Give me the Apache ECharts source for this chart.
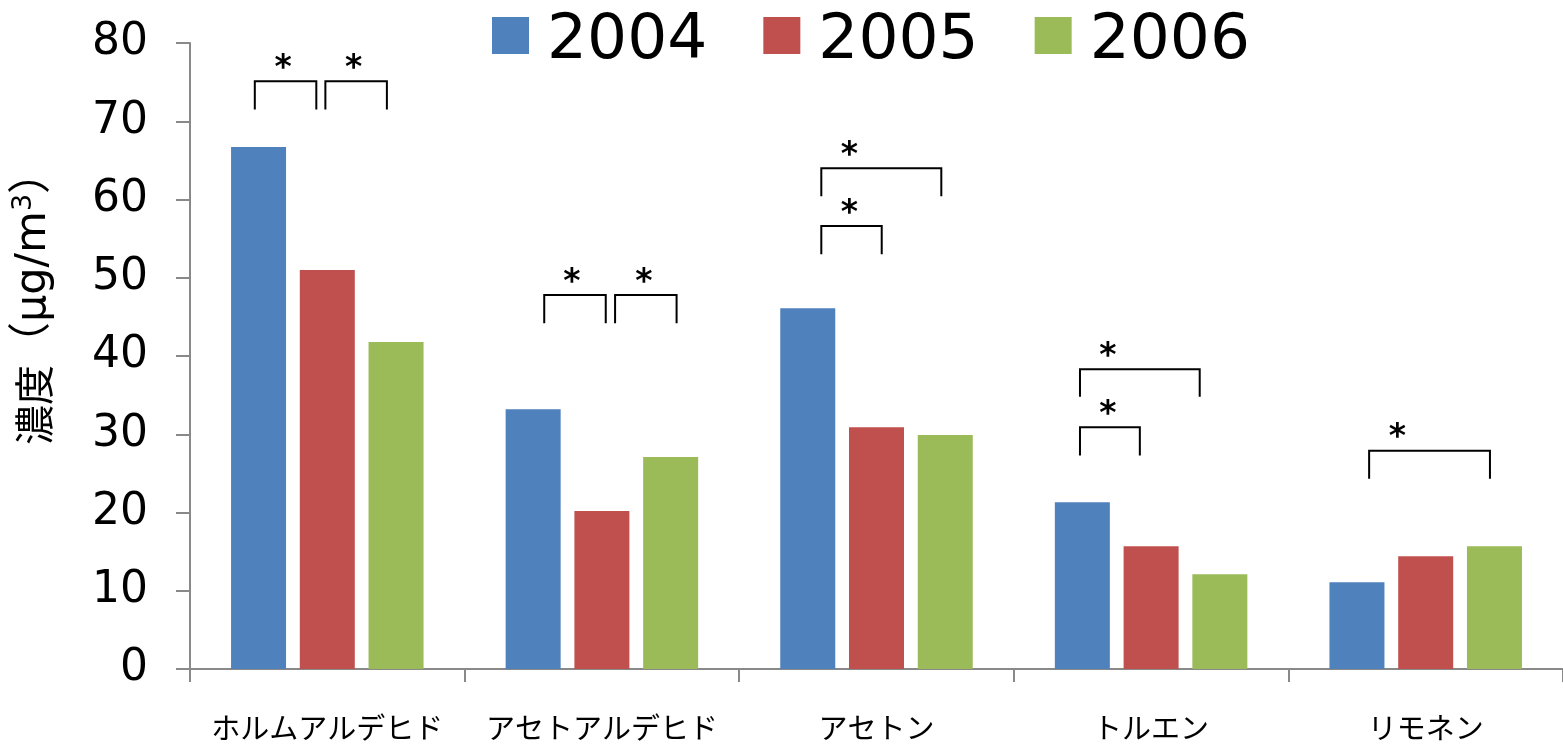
<!DOCTYPE html>
<html>
<head>
<meta charset="utf-8">
<script src="https://cdn.jsdelivr.net/npm/echarts@6/dist/echarts.min.js"></script>
<style>
  html, body { margin: 0; padding: 0; background: #fff; }
  #chart { width: 1563px; height: 746px; }
</style>
</head>
<body>
<div id="chart"></div>
<script>
// Indoor concentrations of volatile organic compounds, by year
const categories = ['ホルムアルデヒド', 'アセトアルデヒド', 'アセトン', 'トルエン', 'リモネン'];
const years = ['2004', '2005', '2006'];
const values2004 = [66.7, 33.2, 46.1, 21.3, 11.1];
const values2005 = [51.0, 20.2, 30.9, 15.7, 14.4];
const values2006 = [41.8, 27.1, 29.9, 12.1, 15.7];
const yTicks = [0, 10, 20, 30, 40, 50, 60, 70, 80];

// Significance brackets: [category index, left end, right end, asterisk x, top value, leg-end value]
// (x positions are offsets from the category centre, in category widths)
const brackets = [
  [0, -0.264, -0.040, -0.161, 75.1, 71.5],
  [0, -0.007,  0.217,  0.096, 75.1, 71.5],
  [1, -0.210,  0.014, -0.109, 47.8, 44.2],
  [1,  0.048,  0.272,  0.153, 47.8, 44.2],
  [2, -0.201,  0.236, -0.099, 64.0, 60.4],
  [2, -0.201,  0.019, -0.099, 56.6, 53.0],
  [3, -0.259,  0.177, -0.157, 38.3, 34.8],
  [3, -0.259, -0.041, -0.157, 30.9, 27.3],
  [4, -0.206,  0.234, -0.103, 27.9, 24.3]
];

const colors = ['#4F81BD', '#C0504D', '#9BBB59'];
const axisGray = '#898989';
const numFont = "'DejaVu Sans', 'Noto Sans CJK JP', sans-serif";
const jpFont = "'Noto Sans CJK JP', 'DejaVu Sans', sans-serif";

const chart = echarts.init(document.getElementById('chart'), null, { renderer: 'canvas' });

function renderBracket(params, api) {
  const cat = api.value(0);
  const bw = api.size([1, 0])[0];
  const cx = api.coord([cat, 0])[0];
  const x1 = cx + api.value(1) * bw;
  const x2 = cx + api.value(2) * bw;
  const xs = cx + api.value(3) * bw;
  const yTop = api.coord([cat, api.value(4)])[1];
  const yBot = api.coord([cat, api.value(5)])[1];
  return {
    type: 'group',
    children: [
      {
        type: 'polyline',
        shape: { points: [[x1, yBot], [x1, yTop], [x2, yTop], [x2, yBot]] },
        style: { stroke: '#000', lineWidth: 2, fill: null }
      },
      {
        type: 'text',
        x: xs,
        y: yTop - 12,
        style: {
          text: '*',
          fill: '#000',
          font: 'bold 33px ' + numFont,
          align: 'center',
          verticalAlign: 'middle'
        }
      }
    ]
  };
}

const yearValues = [values2004, values2005, values2006];

const option = {
  animation: false,
  backgroundColor: '#fff',
  legend: {
    data: years,
    left: 492,
    top: 10,
    padding: 0,
    itemWidth: 37,
    itemHeight: 37,
    itemGap: 56,
    icon: 'rect',
    formatter: '{v|{name}}',
    textStyle: {
      fontSize: 63,
      fontFamily: numFont,
      color: '#000',
      padding: [0, 0, 0, 13],
      rich: {
        v: { fontSize: 63, fontFamily: numFont, color: '#000', padding: [12, 0, 0, 0] }
      }
    }
  },
  grid: {
    left: 190,
    top: 43,
    width: 1376,
    bottom: 77,
    containLabel: false
  },
  xAxis: {
    type: 'category',
    data: categories,
    boundaryGap: true,
    axisLine: { show: true, lineStyle: { color: axisGray, width: 2 } },
    axisTick: { show: true, length: 13, alignWithLabel: false, lineStyle: { color: axisGray, width: 2 } },
    axisLabel: {
      margin: 44,
      fontSize: 29,
      fontFamily: jpFont,
      color: '#000',
      interval: 0
    },
    splitLine: { show: false }
  },
  yAxis: {
    type: 'value',
    min: yTicks[0],
    max: yTicks[yTicks.length - 1],
    interval: yTicks[1] - yTicks[0],
    axisLine: { show: true, lineStyle: { color: axisGray, width: 2 } },
    axisTick: { show: true, length: 14, inside: false, lineStyle: { color: axisGray, width: 2 } },
    axisLabel: {
      margin: 42,
      fontSize: 44,
      fontFamily: numFont,
      color: '#000'
    },
    splitLine: { show: false }
  },
  graphic: [
    {
      type: 'text',
      x: 34,
      y: 298,
      rotation: Math.PI / 2,
      style: {
        text: '{j|濃度}{t|（μg/m}{s|3}{t|）}',
        align: 'center',
        verticalAlign: 'middle',
        rich: {
          j: { fontSize: 40, fontFamily: jpFont, fill: '#000', color: '#000' },
          t: { fontSize: 43, fontFamily: numFont, fill: '#000', color: '#000' },
          s: { fontSize: 27, fontFamily: numFont, fill: '#000', color: '#000', padding: [0, 0, 20, 0] }
        }
      }
    }
  ],
  series: years.map((name, i) => ({
    name: name,
    type: 'bar',
    data: yearValues[i],
    barWidth: 55,
    barGap: '25%',
    itemStyle: { color: colors[i] }
  })).concat([
    {
      type: 'custom',
      name: 'significance',
      renderItem: renderBracket,
      data: brackets,
      encode: { x: 0, y: 4 },
      silent: true,
      z: 5
    }
  ])
};

chart.setOption(option);
</script>
</body>
</html>
